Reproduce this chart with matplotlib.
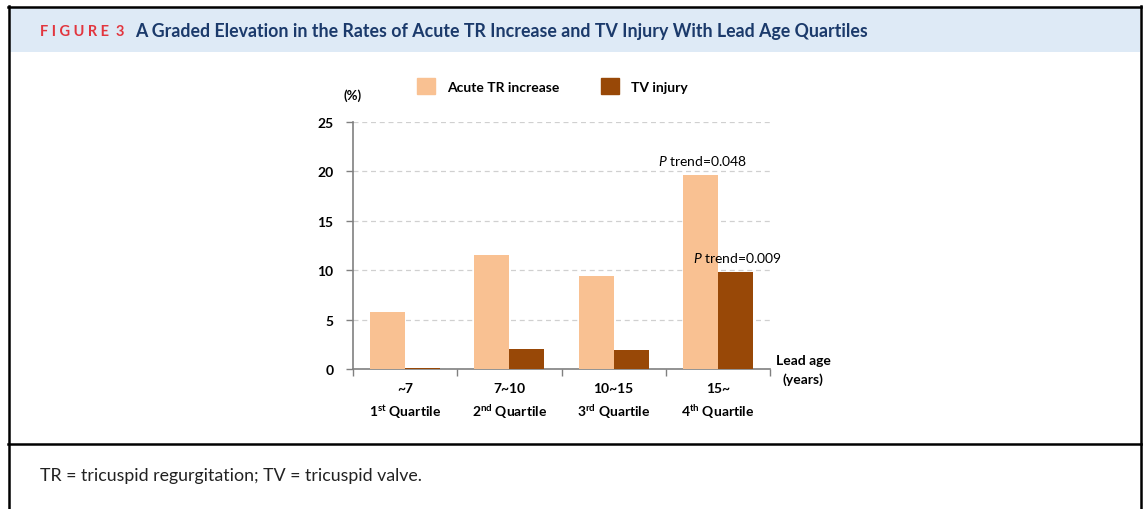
import numpy as np
import matplotlib
matplotlib.use("Agg")
import matplotlib.pyplot as plt
import matplotlib.patches as mpatches
from matplotlib.lines import Line2D

plt.rcParams["font.family"] = ["Lato", "DejaVu Sans"]
plt.rcParams["mathtext.fontset"] = "custom"
plt.rcParams["mathtext.rm"] = "Lato"
plt.rcParams["mathtext.it"] = "Lato:italic"
plt.rcParams["mathtext.bf"] = "Lato:bold"

# data
age_ranges = ["~7", "7~10", "10~15", "15~"]
quartiles = [r"1$^{\mathbf{st}}$ Quartile", r"2$^{\mathbf{nd}}$ Quartile",
             r"3$^{\mathbf{rd}}$ Quartile", r"4$^{\mathbf{th}}$ Quartile"]
acute_tr = [5.8, 11.5, 9.4, 19.6]
tv_injury = [0.15, 2.0, 1.9, 9.8]
series_names = ["Acute TR increase", "TV injury"]
p_trends = ["0.048", "0.009"]
y_ticks = [0, 5, 10, 15, 20, 25]

W, H = 1145, 510
LIGHT = "#F9C192"
BROWN = "#984807"


def fx(x):
    return x / W


def fy(y):
    return 1 - y / H


fig = plt.figure(figsize=(W / 100, H / 100), dpi=100)

# header band and frame
fig.patches.append(mpatches.Rectangle((fx(9), fy(53)), fx(1131), 45 / H,
                                      transform=fig.transFigure,
                                      facecolor="#DEEAF6", edgecolor="none"))
frame = [((8.5, 8.5), (7, 520)), ((1140.5, 1140.5), (7, 520)),
         ((8, 1141), (7.5, 7.5)), ((8, 1141), (444.5, 444.5))]
for xs, ys in frame:
    fig.lines.append(Line2D([fx(v) for v in xs], [fy(v) for v in ys],
                            transform=fig.transFigure, color="black", linewidth=1.8))

fig.text(fx(40), fy(32), "F I G U R E  3", color="#E2363F", fontsize=10.5,
         fontweight="bold", va="center", ha="left")
fig.text(fx(135), fy(32),
         "A Graded Elevation in the Rates of Acute TR Increase and TV Injury With Lead Age Quartiles",
         color="#1B3A6B", fontsize=12.8, fontweight="bold", va="center", ha="left")
fig.text(fx(40), fy(476), "TR = tricuspid regurgitation; TV = tricuspid valve.",
         color="#222222", fontsize=12.8, va="center", ha="left")

# chart
ax = fig.add_axes([fx(353), fy(370), fx(770) - fx(353), (370 - 123) / H])
x = np.arange(len(age_ranges))
bw = 0.336
ax.bar(x - bw / 2, acute_tr, bw, color=LIGHT, label=series_names[0], zorder=3)
ax.bar(x + bw / 2, tv_injury, bw, color=BROWN, label=series_names[1], zorder=3)

ax.set_xlim(-0.5, 3.5)
ax.set_ylim(0, 25)
ax.set_yticks(y_ticks)
ax.set_yticklabels([str(v) for v in y_ticks], fontweight="bold", fontsize=10)
ax.set_xticks(np.arange(-0.5, 4, 1))
ax.set_xticklabels([])
ax.tick_params(axis="both", direction="out", length=5, color="#808080", width=1)
ax.tick_params(axis="y", pad=9)
for s in ["top", "right"]:
    ax.spines[s].set_visible(False)
for s in ["left", "bottom"]:
    ax.spines[s].set_color("#808080")
    ax.spines[s].set_linewidth(1.2)
ax.yaxis.grid(True, linestyle=(0, (4, 3)), color="#D0D0D0", linewidth=0.9, zorder=0)
ax.set_axisbelow(True)

for i in range(len(age_ranges)):
    ax.text(i, -0.077, age_ranges[i], transform=ax.get_xaxis_transform(),
            ha="center", va="center", fontsize=10, fontweight="bold")
    ax.text(i, -0.170, quartiles[i], transform=ax.get_xaxis_transform(),
            ha="center", va="center", fontsize=10, fontweight="bold")

ax.text(-0.5, 1.11, "(%)", transform=ax.get_xaxis_transform(), ha="center",
        va="center", fontsize=9.5, fontweight="bold")
ax.text(3.82, 0.035, "Lead age", transform=ax.get_xaxis_transform(), ha="center",
        va="center", fontsize=10, fontweight="bold")
ax.text(3.82, -0.04, "(years)", transform=ax.get_xaxis_transform(), ha="center",
        va="center", fontsize=10, fontweight="bold")

ax.text(3 - bw / 2 + 0.02, acute_tr[3] + 1.6, r"$\it{P}$ trend=" + p_trends[0],
        ha="center", va="center", fontsize=10)
ax.text(3 + bw / 2 + 0.02, tv_injury[3] + 1.5, r"$\it{P}$ trend=" + p_trends[1],
        ha="center", va="center", fontsize=10)

handles = [mpatches.Patch(color=LIGHT, label=series_names[0]),
           mpatches.Patch(color=BROWN, label=series_names[1])]
leg = fig.legend(handles=handles, loc="center", bbox_to_anchor=(fx(552), fy(87)),
                 ncol=2, frameon=False, handlelength=1.35, handleheight=1.3,
                 handletextpad=0.8, columnspacing=3.0, prop={"weight": "bold", "size": 10})

fig.savefig("out.png", dpi=100)
